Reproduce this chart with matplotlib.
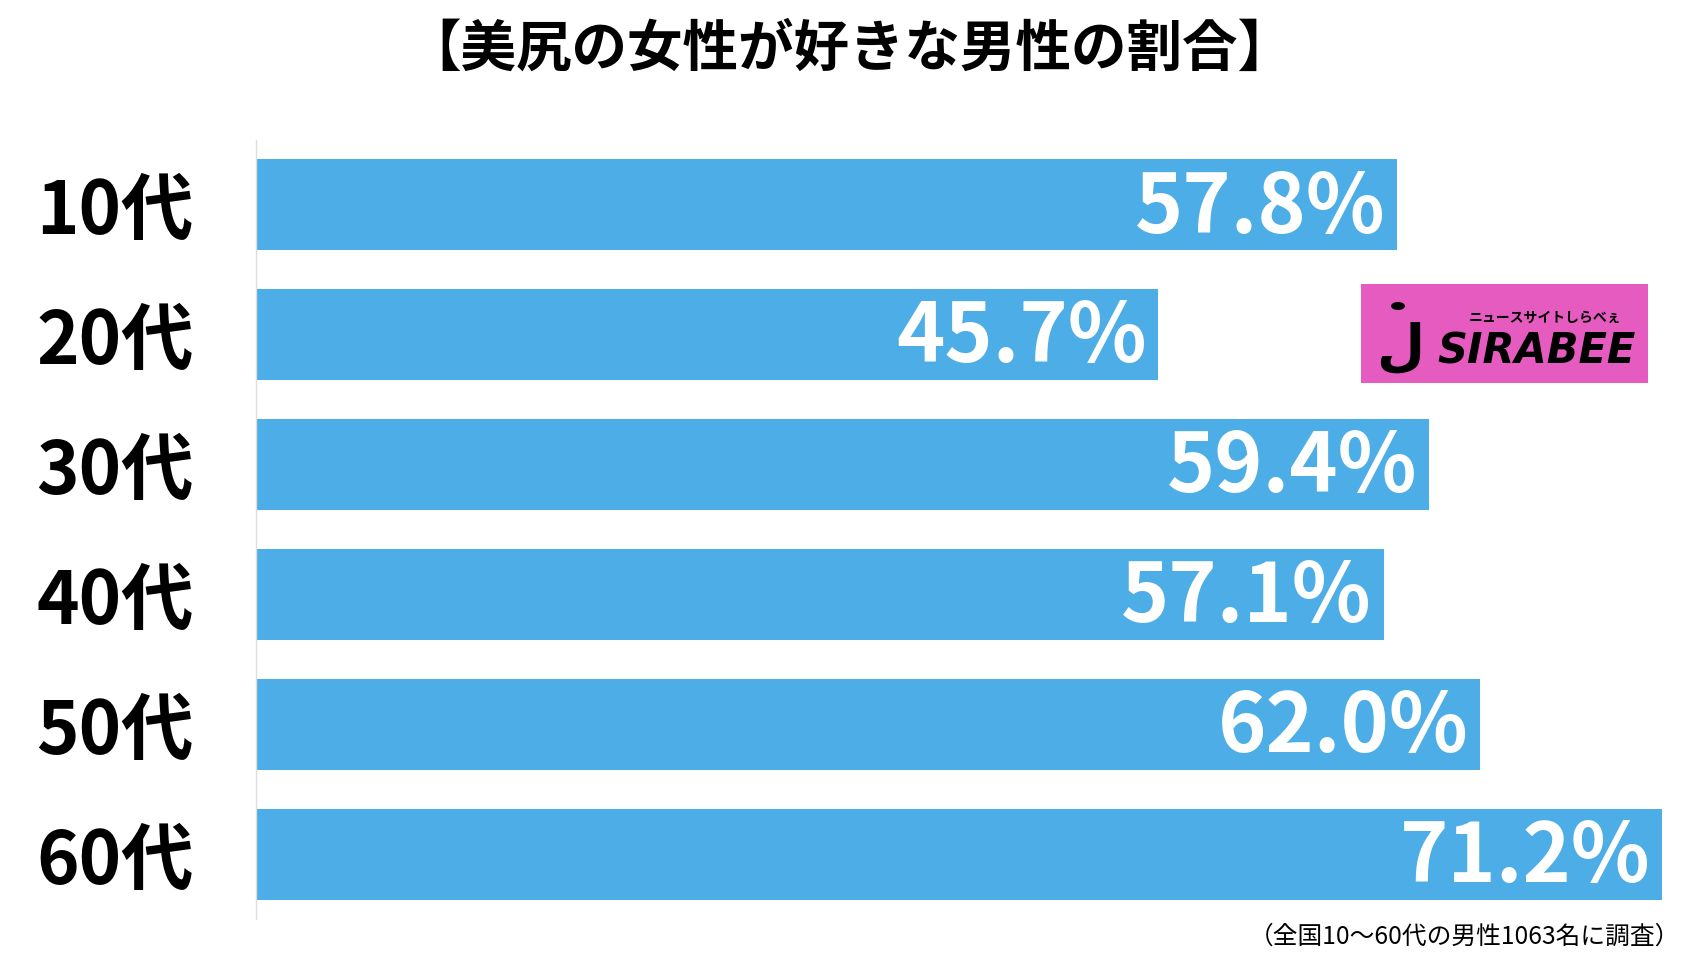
import matplotlib
matplotlib.use('Agg')
import matplotlib.pyplot as plt
from matplotlib.patches import Rectangle, Circle

plt.rcParams['font.family'] = ['Noto Sans CJK JP', 'DejaVu Sans']

# data
ages = ['10代', '20代', '30代', '40代', '50代', '60代']
values = [57.8, 45.7, 59.4, 57.1, 62.0, 71.2]
title = '【美尻の女性が好きな男性の割合】'
note = '（全国10〜60代の男性1063名に調査）'

W, H = 1685, 967
fig = plt.figure(figsize=(W / 100, H / 100), dpi=100)
fig.patch.set_facecolor('white')

# axes: left edge at bar start, right edge at the longest bar
ax = fig.add_axes([256 / W, 1 - 919 / H, (1662 - 256) / W, (919 - 140) / H])
ypos = list(range(len(ages)))
ax.barh(ypos, values, height=0.70, color='#4DADE7', zorder=2)
ax.set_xlim(0, max(values))
ax.set_ylim(len(ages) - 0.5, -0.5)

for y, v in zip(ypos, values):
    ax.text(v - 0.6, y + 0.03, f'{v:.1f}%', ha='right', va='center',
            color='white', fontsize=59, fontweight='bold', zorder=3)

ax.set_yticks(ypos)
ax.set_yticklabels(ages, fontsize=52, fontweight='bold')
ax.tick_params(axis='y', length=0, pad=45)
ax.set_xticks([])
for s in ['top', 'right', 'bottom']:
    ax.spines[s].set_visible(False)
ax.spines['left'].set_color('#dddddd')
ax.spines['left'].set_linewidth(1)

# title and note
fig.text(849 / W, 1 - 50 / H, title, ha='center', va='center',
         fontsize=40, fontweight='bold')
fig.text(1680 / W, 1 - 937 / H, note, ha='right', va='center', fontsize=17.8)

# logo
lx0, ly0, lx1, ly1 = 1361, 284, 1648, 383
fig.patches.append(Rectangle((lx0 / W, 1 - ly1 / H), (lx1 - lx0) / W, (ly1 - ly0) / H,
                             transform=fig.transFigure, facecolor='#E65BBF',
                             edgecolor='none', zorder=5))
fig.patches.append(Circle((1398 / W, 1 - 306 / H), 7 / W, transform=fig.transFigure,
                          facecolor='black', edgecolor='none', zorder=6))
fig.text(1400 / W, 1 - 349 / H, 'ل', ha='center', va='center', fontsize=40,
         fontweight='bold', color='black', zorder=6, family=['DejaVu Sans'])
fig.text(1536 / W, 1 - 351 / H, 'SIRABEE', ha='center', va='center', fontsize=30,
         fontweight='bold', style='italic', color='black', zorder=6,
         family=['DejaVu Sans'])
fig.text(1545 / W, 1 - 318 / H, 'ニュースサイトしらべぇ', ha='center', va='center',
         fontsize=10, fontweight='bold', color='black', zorder=6)

fig.savefig('out.png', dpi=100, facecolor='white')
